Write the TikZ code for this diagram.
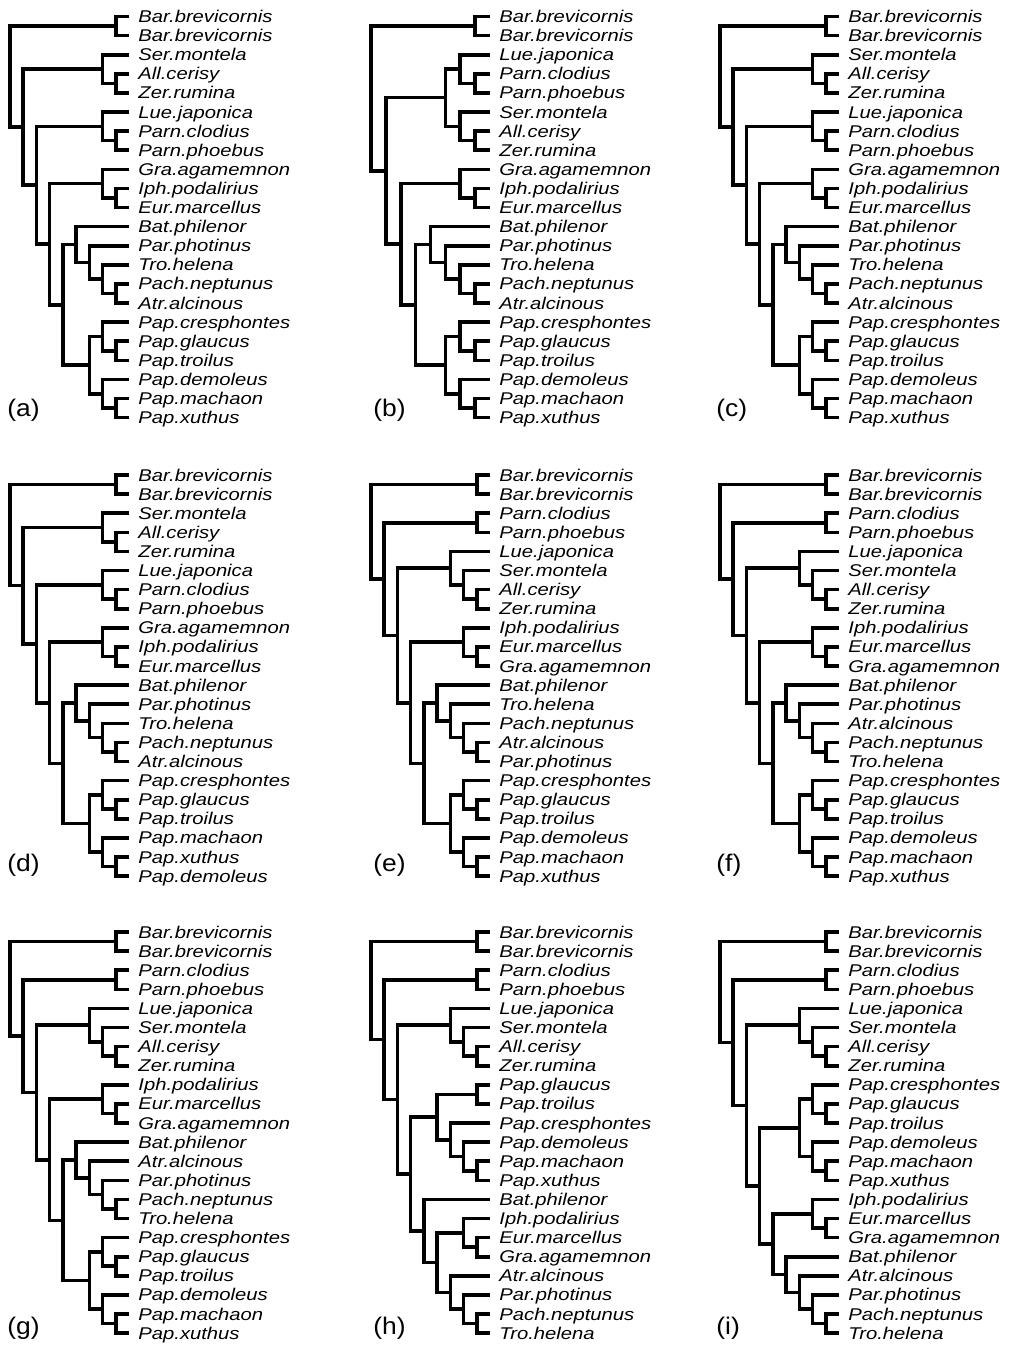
\documentclass[tikz,border=0pt]{standalone}
\usepackage{fontspec}
\usepackage{tikz}
\usetikzlibrary{calc}
\newfontfamily\leaffont[FakeStretch=1.19]{Liberation Sans}
\newfontfamily\panelfont[FakeStretch=1.1]{Liberation Sans}

% x positions of the levels above the tips
\newcommand{\depths}[1]{%
  \foreach \k in {1,...,#1}
    \coordinate (lv\k) at ({129-\k*119/#1},0);
}
% tips and their names
\newcommand{\tips}[2]{%
  \foreach \lab [count=\i from 0] in {#2} {
    \coordinate (#1\i) at (129,\i*19.1);
    \node [leaf] (#1t\i) at ([xshift=4.5pt]#1\i) {\lab};
  }
}
% one clade: name, upper child, lower child, level
\newcommand{\clade}[4]{%
  \coordinate (#1) at ($(#2)!0.5!(#3)$);
  \coordinate (#1) at (lv#4 |- #1);
  \draw [branch] (#2) -| (#1) |- (#3);
}
% trees (a), (c), (d)
\newcommand{\treeA}[1]{%
  \clade{#1A}{#10}{#11}{1}
  \clade{#1B}{#13}{#14}{1}
  \clade{#1C}{#12}{#1B}{2}
  \clade{#1D}{#16}{#17}{1}
  \clade{#1E}{#15}{#1D}{2}
  \clade{#1F}{#19}{#110}{1}
  \clade{#1G}{#18}{#1F}{2}
  \clade{#1H}{#114}{#115}{1}
  \clade{#1I}{#113}{#1H}{2}
  \clade{#1J}{#112}{#1I}{3}
  \clade{#1K}{#111}{#1J}{4}
  \clade{#1L}{#117}{#118}{1}
  \clade{#1M}{#116}{#1L}{2}
  \clade{#1N}{#120}{#121}{1}
  \clade{#1O}{#119}{#1N}{2}
  \clade{#1P}{#1M}{#1O}{3}
  \clade{#1Q}{#1K}{#1P}{5}
  \clade{#1R}{#1G}{#1Q}{6}
  \clade{#1S}{#1E}{#1R}{7}
  \clade{#1T}{#1C}{#1S}{8}
  \clade{#1U}{#1A}{#1T}{9}
}
% trees (e), (f), (g)
\newcommand{\treeE}[1]{%
  \clade{#1A}{#10}{#11}{1}
  \clade{#1B}{#12}{#13}{1}
  \clade{#1C}{#16}{#17}{1}
  \clade{#1D}{#15}{#1C}{2}
  \clade{#1E}{#14}{#1D}{3}
  \clade{#1F}{#19}{#110}{1}
  \clade{#1G}{#18}{#1F}{2}
  \clade{#1H}{#114}{#115}{1}
  \clade{#1I}{#113}{#1H}{2}
  \clade{#1J}{#112}{#1I}{3}
  \clade{#1K}{#111}{#1J}{4}
  \clade{#1L}{#117}{#118}{1}
  \clade{#1M}{#116}{#1L}{2}
  \clade{#1N}{#120}{#121}{1}
  \clade{#1O}{#119}{#1N}{2}
  \clade{#1P}{#1M}{#1O}{3}
  \clade{#1Q}{#1K}{#1P}{5}
  \clade{#1R}{#1G}{#1Q}{6}
  \clade{#1S}{#1E}{#1R}{7}
  \clade{#1T}{#1B}{#1S}{8}
  \clade{#1U}{#1A}{#1T}{9}
}

\begin{document}
\begin{tikzpicture}[x=0.5pt,y=-0.5pt,
  branch/.style={line width=1.8pt},
  leaf/.style={anchor=base west,inner sep=0pt,yshift=-3pt,
    font=\leaffont\itshape\fontsize{8.5pt}{9pt}\selectfont},
  panel/.style={anchor=base west,inner sep=0pt,
    font=\panelfont\fontsize{12pt}{14pt}\selectfont}]
\useasboundingbox (0,0) rectangle (1012,1345);

% (a)
\begin{scope}[shift={(0,16.5)}]
\depths{9}
\tips{a}{Bar.brevicornis,Bar.brevicornis,Ser.montela,All.cerisy,Zer.rumina,Lue.japonica,Parn.clodius,Parn.phoebus,Gra.agamemnon,Iph.podalirius,Eur.marcellus,Bat.philenor,Par.photinus,Tro.helena,Pach.neptunus,Atr.alcinous,Pap.cresphontes,Pap.glaucus,Pap.troilus,Pap.demoleus,Pap.machaon,Pap.xuthus}
\treeA{a}
\node [panel] (la) at (7,400) {(a)};
\end{scope}

% (b)
\begin{scope}[shift={(361,16.5)}]
\depths{8}
\tips{b}{Bar.brevicornis,Bar.brevicornis,Lue.japonica,Parn.clodius,Parn.phoebus,Ser.montela,All.cerisy,Zer.rumina,Gra.agamemnon,Iph.podalirius,Eur.marcellus,Bat.philenor,Par.photinus,Tro.helena,Pach.neptunus,Atr.alcinous,Pap.cresphontes,Pap.glaucus,Pap.troilus,Pap.demoleus,Pap.machaon,Pap.xuthus}
\clade{bA}{b0}{b1}{1}
\clade{bB}{b3}{b4}{1}
\clade{bC}{b2}{bB}{2}
\clade{bD}{b6}{b7}{1}
\clade{bE}{b5}{bD}{2}
\clade{bF}{bC}{bE}{3}
\clade{bG}{b9}{b10}{1}
\clade{bH}{b8}{bG}{2}
\clade{bI}{b14}{b15}{1}
\clade{bJ}{b13}{bI}{2}
\clade{bK}{b12}{bJ}{3}
\clade{bL}{b11}{bK}{4}
\clade{bM}{b17}{b18}{1}
\clade{bN}{b16}{bM}{2}
\clade{bO}{b20}{b21}{1}
\clade{bP}{b19}{bO}{2}
\clade{bQ}{bN}{bP}{3}
\clade{bR}{bL}{bQ}{5}
\clade{bS}{bH}{bR}{6}
\clade{bT}{bF}{bS}{7}
\clade{bU}{bA}{bT}{8}
\node [panel] (lb) at (12,400) {(b)};
\end{scope}

% (c)
\begin{scope}[shift={(710,16.5)}]
\depths{9}
\tips{c}{Bar.brevicornis,Bar.brevicornis,Ser.montela,All.cerisy,Zer.rumina,Lue.japonica,Parn.clodius,Parn.phoebus,Gra.agamemnon,Iph.podalirius,Eur.marcellus,Bat.philenor,Par.photinus,Tro.helena,Pach.neptunus,Atr.alcinous,Pap.cresphontes,Pap.glaucus,Pap.troilus,Pap.demoleus,Pap.machaon,Pap.xuthus}
\treeA{c}
\node [panel] (lc) at (6,400) {(c)};
\end{scope}

% (d)
\begin{scope}[shift={(0,475)}]
\depths{9}
\tips{d}{Bar.brevicornis,Bar.brevicornis,Ser.montela,All.cerisy,Zer.rumina,Lue.japonica,Parn.clodius,Parn.phoebus,Gra.agamemnon,Iph.podalirius,Eur.marcellus,Bat.philenor,Par.photinus,Tro.helena,Pach.neptunus,Atr.alcinous,Pap.cresphontes,Pap.glaucus,Pap.troilus,Pap.machaon,Pap.xuthus,Pap.demoleus}
\treeA{d}
\node [panel] (ld) at (7,396) {(d)};
\end{scope}

% (e)
\begin{scope}[shift={(361,475)}]
\depths{9}
\tips{e}{Bar.brevicornis,Bar.brevicornis,Parn.clodius,Parn.phoebus,Lue.japonica,Ser.montela,All.cerisy,Zer.rumina,Iph.podalirius,Eur.marcellus,Gra.agamemnon,Bat.philenor,Tro.helena,Pach.neptunus,Atr.alcinous,Par.photinus,Pap.cresphontes,Pap.glaucus,Pap.troilus,Pap.demoleus,Pap.machaon,Pap.xuthus}
\treeE{e}
\node [panel] (le) at (12,396) {(e)};
\end{scope}

% (f)
\begin{scope}[shift={(710,475)}]
\depths{9}
\tips{f}{Bar.brevicornis,Bar.brevicornis,Parn.clodius,Parn.phoebus,Lue.japonica,Ser.montela,All.cerisy,Zer.rumina,Iph.podalirius,Eur.marcellus,Gra.agamemnon,Bat.philenor,Par.photinus,Atr.alcinous,Pach.neptunus,Tro.helena,Pap.cresphontes,Pap.glaucus,Pap.troilus,Pap.demoleus,Pap.machaon,Pap.xuthus}
\treeE{f}
\node [panel] (lf) at (6,396) {(f)};
\end{scope}

% (g)
\begin{scope}[shift={(0,932)}]
\depths{9}
\tips{g}{Bar.brevicornis,Bar.brevicornis,Parn.clodius,Parn.phoebus,Lue.japonica,Ser.montela,All.cerisy,Zer.rumina,Iph.podalirius,Eur.marcellus,Gra.agamemnon,Bat.philenor,Atr.alcinous,Par.photinus,Pach.neptunus,Tro.helena,Pap.cresphontes,Pap.glaucus,Pap.troilus,Pap.demoleus,Pap.machaon,Pap.xuthus}
\treeE{g}
\node [panel] (lg) at (7,402) {(g)};
\end{scope}

% (h)
\begin{scope}[shift={(361,932)}]
\depths{9}
\tips{h}{Bar.brevicornis,Bar.brevicornis,Parn.clodius,Parn.phoebus,Lue.japonica,Ser.montela,All.cerisy,Zer.rumina,Pap.glaucus,Pap.troilus,Pap.cresphontes,Pap.demoleus,Pap.machaon,Pap.xuthus,Bat.philenor,Iph.podalirius,Eur.marcellus,Gra.agamemnon,Atr.alcinous,Par.photinus,Pach.neptunus,Tro.helena}
\clade{hA}{h0}{h1}{1}
\clade{hB}{h2}{h3}{1}
\clade{hC}{h6}{h7}{1}
\clade{hD}{h5}{hC}{2}
\clade{hE}{h4}{hD}{3}
\clade{hF}{h8}{h9}{1}
\clade{hG}{h12}{h13}{1}
\clade{hH}{h11}{hG}{2}
\clade{hI}{h10}{hH}{3}
\clade{hJ}{hF}{hI}{4}
\clade{hK}{h16}{h17}{1}
\clade{hL}{h15}{hK}{2}
\clade{hM}{h20}{h21}{1}
\clade{hN}{h19}{hM}{2}
\clade{hO}{h18}{hN}{3}
\clade{hP}{hL}{hO}{4}
\clade{hQ}{h14}{hP}{5}
\clade{hR}{hJ}{hQ}{6}
\clade{hS}{hE}{hR}{7}
\clade{hT}{hB}{hS}{8}
\clade{hU}{hA}{hT}{9}
\node [panel] (lh) at (12,402) {(h)};
\end{scope}

% (i)
\begin{scope}[shift={(710,932)}]
\depths{9}
\tips{i}{Bar.brevicornis,Bar.brevicornis,Parn.clodius,Parn.phoebus,Lue.japonica,Ser.montela,All.cerisy,Zer.rumina,Pap.cresphontes,Pap.glaucus,Pap.troilus,Pap.demoleus,Pap.machaon,Pap.xuthus,Iph.podalirius,Eur.marcellus,Gra.agamemnon,Bat.philenor,Atr.alcinous,Par.photinus,Pach.neptunus,Tro.helena}
\clade{iA}{i0}{i1}{1}
\clade{iB}{i2}{i3}{1}
\clade{iC}{i6}{i7}{1}
\clade{iD}{i5}{iC}{2}
\clade{iE}{i4}{iD}{3}
\clade{iF}{i9}{i10}{1}
\clade{iG}{i8}{iF}{2}
\clade{iH}{i12}{i13}{1}
\clade{iI}{i11}{iH}{2}
\clade{iJ}{iG}{iI}{3}
\clade{iK}{i15}{i16}{1}
\clade{iL}{i14}{iK}{2}
\clade{iM}{i20}{i21}{1}
\clade{iN}{i19}{iM}{2}
\clade{iO}{i18}{iN}{3}
\clade{iP}{i17}{iO}{4}
\clade{iQ}{iL}{iP}{5}
\clade{iR}{iJ}{iQ}{6}
\clade{iS}{iE}{iR}{7}
\clade{iT}{iB}{iS}{8}
\clade{iU}{iA}{iT}{9}
\node [panel] (li) at (6,402) {(i)};
\end{scope}
\end{tikzpicture}
\end{document}
